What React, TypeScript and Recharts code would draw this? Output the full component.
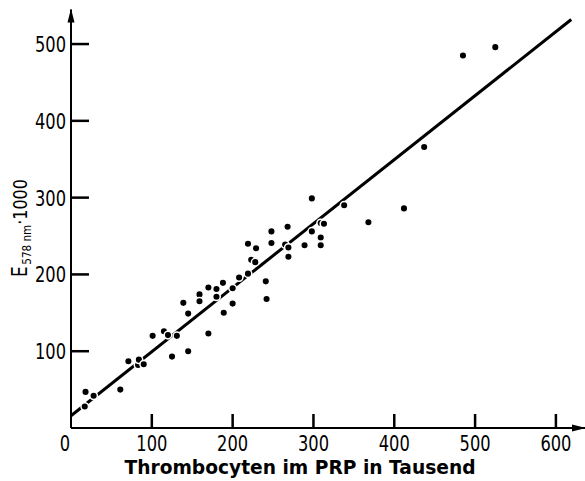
import React from 'react';
import { ScatterChart, Scatter, XAxis, YAxis } from 'recharts';

// Thrombocyten (Tausend) vs. Extinktion E578nm * 1000
const plateletCounts = [
  17, 18, 28, 61, 71, 83, 84, 90, 101, 115, 120, 125, 131, 139, 145, 145, 159, 159, 170, 170,
  180, 180, 188, 189, 200, 200, 208, 219, 219, 229, 223, 228, 241, 242, 248, 248, 265, 269, 269,
  268, 289, 298, 298, 309, 313, 309, 309, 338, 368, 412, 437, 485, 525,
];
const extinctions = [
  28, 47, 42, 50, 87, 82, 89, 83, 120, 126, 121, 93, 120, 163, 149, 100, 174, 165, 123, 183,
  181, 171, 189, 150, 182, 162, 196, 240, 201, 234, 219, 216, 191, 168, 256, 241, 239, 235, 223,
  262, 238, 299, 256, 267, 266, 248, 238, 290, 268, 286, 366, 485, 496,
];
const xTicks = [0, 100, 200, 300, 400, 500, 600];
const yTicks = [100, 200, 300, 400, 500];
// Regressionsgerade, Endpunkte
const fitX = [0, 619];
const fitY = [16, 532];

const points = plateletCounts.map((x, i) => ({ x, y: extinctions[i] }));
const fitData = fitX.map((x, i) => ({ x, y: fitY[i] }));

const FONT = '"DejaVu Sans", sans-serif';

// tick marks point inward; drawn as filled rects next to the labels
const XTick = (props: any) => {
  const x = Number(props.x);
  const y = Number(props.y);
  const v = props.payload.value;
  const tx = v === 0 ? x - 6 : x;
  return (
    <g>
      {v !== 0 && <rect x={x - 1.25} y={y - 14} width={2.5} height={14} fill="#000" />}
      <text transform={`translate(${tx},${451}) scale(0.74,1)`} textAnchor="middle" fontSize={22} fontFamily={FONT} fill="#000">
        {v}
      </text>
    </g>
  );
};

const YTick = (props: any) => {
  const x = Number(props.x);
  const y = Number(props.y);
  return (
    <g>
      <rect x={x} y={y - 1.25} width={18} height={2.5} fill="#000" />
      <text transform={`translate(${66},${y + 8}) scale(0.74,1)`} textAnchor="end" fontSize={22} fontFamily={FONT} fill="#000">
        {props.payload.value}
      </text>
    </g>
  );
};

const Dot = (props: any) => (
  <circle cx={props.cx} cy={props.cy} r={3.8} fill="#000" stroke="#fff" strokeWidth={1.5} />
);
const NoDot = () => <g />;

export default function App() {
  return (
    <div style={{ position: 'absolute', left: 0, top: 0, background: '#fff' }}>
      <ScatterChart width={585} height={481} margin={{ top: 9.5, right: 0, bottom: 0, left: 0 }}>
        <defs>
          <marker id="arrow" viewBox="0 0 14 8" refX="13" refY="4" markerWidth="14" markerHeight="8" orient="auto-start-reverse" markerUnits="userSpaceOnUse">
            <path d="M0,0.5 L14,4 L0,7.5 z" fill="#000" />
          </marker>
        </defs>
        <XAxis
          type="number"
          dataKey="x"
          domain={[0, 636]}
          ticks={xTicks}
          height={53}
          tickSize={0}
          tickMargin={0}
          tickLine={false}
          tick={(p: any) => <XTick {...p} />}
          axisLine={{ stroke: '#000', strokeWidth: 2, markerEnd: 'url(#arrow)' }}
        />
        <YAxis
          type="number"
          dataKey="y"
          domain={[0, 545]}
          ticks={yTicks}
          width={71}
          tickSize={0}
          tickMargin={0}
          tickLine={false}
          tick={(p: any) => <YTick {...p} />}
          axisLine={{ stroke: '#000', strokeWidth: 2, markerStart: 'url(#arrow)' }}
        />
        <Scatter data={fitData} line={{ stroke: '#000', strokeWidth: 3 }} shape={<NoDot />} isAnimationActive={false} />
        <Scatter data={points} shape={<Dot />} isAnimationActive={false} />
        <text transform="translate(27,228) rotate(-90) scale(0.8,1)" textAnchor="middle" fontFamily={FONT} fill="#000">
          <tspan fontSize={21}>E</tspan>
          <tspan fontSize={13} dy={4} dx={2}>578 nm</tspan>
          <tspan fontSize={20} dy={-4}>·1000</tspan>
        </text>
        <text x={300} y={474} textAnchor="middle" fontFamily={FONT} fontWeight="bold" fontSize={20} textLength={351} lengthAdjust="spacingAndGlyphs" fill="#000">
          Thrombocyten im PRP in Tausend
        </text>
      </ScatterChart>
    </div>
  );
}
